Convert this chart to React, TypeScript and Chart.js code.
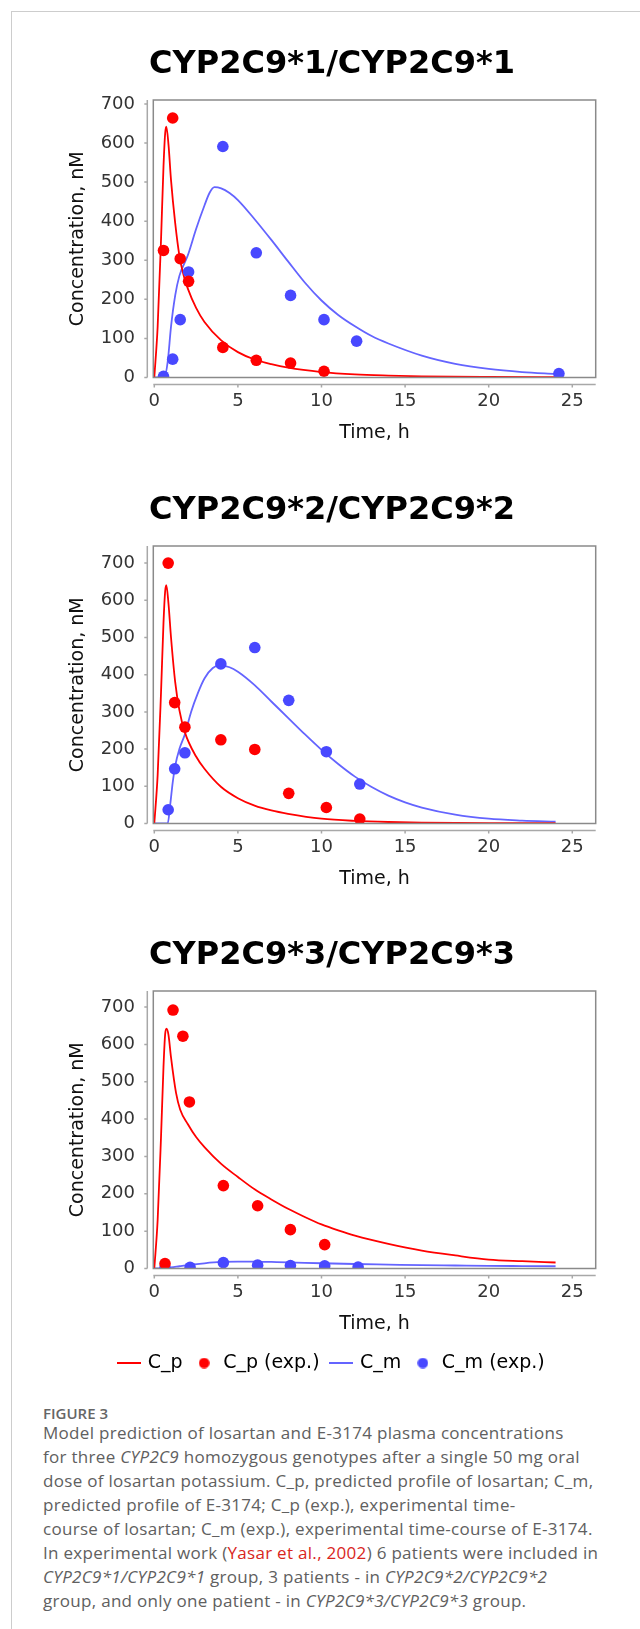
import React, { useEffect, useRef } from "react";
import { Chart, registerables } from "chart.js";

Chart.register(...registerables);

// ---------- shared axis data ----------
const X_TICKS = [0, 5, 10, 15, 20, 25];
const Y_TICKS = [0, 100, 200, 300, 400, 500, 600, 700];
const X_MIN = -0.06;
const X_MAX = 26.4;
const Y_MAX = [710, 746, 743];
const TITLES = ["CYP2C9*1/CYP2C9*1", "CYP2C9*2/CYP2C9*2", "CYP2C9*3/CYP2C9*3"];
const SERIES_NAMES = ["C_p", "C_p (exp.)", "C_m", "C_m (exp.)"];
const X_TITLE = "Time, h";
const Y_TITLE = "Concentration, nM";

// ---------- CYP2C9*1/CYP2C9*1 ----------
const cp1Time = [0, 0.2, 0.4, 0.55, 0.65, 0.72, 0.85, 1.0, 1.25, 1.5, 1.75, 2, 2.5, 3, 4, 5, 6, 7, 8, 10, 12, 14, 16, 20, 24];
const cp1Conc = [0, 130, 350, 540, 625, 642, 595, 505, 395, 312, 262, 228, 178, 142, 95, 65, 46, 34, 25, 14, 8, 5, 3, 1.5, 1];
const cp1ExpTime = [0.55, 1.1, 1.55, 2.05, 4.1, 6.1, 8.15, 10.15];
const cp1ExpConc = [325, 664, 304, 246, 77, 44, 37, 16];
const cm1Time = [0, 0.6, 0.8, 1.0, 1.25, 1.5, 2, 2.5, 3, 3.3, 3.6, 4.0, 4.5, 5, 6, 7, 8, 9, 10, 11, 12, 13, 14, 16, 18, 20, 22, 24];
const cm1Conc = [0, 0, 40, 130, 210, 260, 312, 380, 440, 472, 487, 484, 472, 454, 405, 352, 297, 243, 197, 160, 131, 106, 87, 56, 35, 22, 14, 9];
const cm1ExpTime = [0.55, 1.1, 1.55, 2.05, 4.1, 6.1, 8.15, 10.15, 12.1, 24.2];
const cm1ExpConc = [3, 47, 148, 270, 591, 319, 210, 148, 93, 10];

// ---------- CYP2C9*2/CYP2C9*2 ----------
const cp2Time = [0, 0.2, 0.4, 0.55, 0.65, 0.72, 0.85, 1.0, 1.25, 1.5, 1.83, 2.5, 3, 4, 5, 6, 7, 8, 10, 12, 14, 16, 20, 24];
const cp2Conc = [0, 130, 350, 540, 625, 641, 590, 500, 380, 305, 245, 180, 147, 98, 68, 48, 35, 26, 13, 7, 4, 2.5, 1.2, 0.8];
const cp2ExpTime = [0.83, 1.22, 1.83, 3.98, 6.01, 8.04, 10.29, 12.29];
const cp2ExpConc = [700, 325, 259, 225, 199, 81, 43, 12];
const cm2Time = [0, 0.8, 0.95, 1.1, 1.25, 1.5, 1.83, 2.2, 2.6, 3.0, 3.5, 3.9, 4.5, 5, 6, 7, 8, 9, 10, 11, 12, 13, 14, 15, 16, 18, 20, 22, 24];
const cm2Conc = [0, 0, 50, 110, 155, 200, 240, 300, 350, 390, 418, 425, 420, 408, 372, 328, 284, 240, 198, 160, 126, 98, 75, 57, 43, 24, 13, 8, 5];
const cm2ExpTime = [0.83, 1.22, 1.83, 3.98, 6.01, 8.04, 10.29, 12.29];
const cm2ExpConc = [37, 147, 190, 429, 473, 331, 193, 106];

// ---------- CYP2C9*3/CYP2C9*3 ----------
const cp3Time = [0, 0.2, 0.4, 0.55, 0.65, 0.73, 0.85, 1.0, 1.3, 1.55, 2, 2.5, 3, 4, 5, 6, 7, 8, 9, 10, 11, 12, 14, 16, 18, 20, 22, 24];
const cp3Conc = [0, 130, 350, 540, 628, 642, 625, 565, 470, 425, 387, 352, 325, 280, 245, 212, 185, 160, 138, 118, 102, 88, 66, 48, 35, 24, 19.5, 16];
const cp3ExpTime = [0.64, 1.12, 1.71, 2.1, 4.13, 6.18, 8.14, 10.19];
const cp3ExpConc = [13, 692, 622, 446, 222, 168, 104, 64];
const cm3Time = [0, 0.65, 1, 1.5, 2, 3, 4, 5, 6, 7, 8, 10, 12, 14, 16, 18, 20, 22, 24];
const cm3Conc = [0, 0, 3, 6, 9, 14, 17.5, 18.5, 18.5, 17.5, 16.5, 14, 12, 10.5, 9, 8, 7, 6.5, 6];
const cm3ExpTime = [0.64, 2.14, 4.13, 6.18, 8.14, 10.19, 12.19];
const cm3ExpConc = [2, 3, 16, 9, 8, 7, 4];

const PANELS = [
  { cpT: cp1Time, cpC: cp1Conc, cpeT: cp1ExpTime, cpeC: cp1ExpConc, cmT: cm1Time, cmC: cm1Conc, cmeT: cm1ExpTime, cmeC: cm1ExpConc },
  { cpT: cp2Time, cpC: cp2Conc, cpeT: cp2ExpTime, cpeC: cp2ExpConc, cmT: cm2Time, cmC: cm2Conc, cmeT: cm2ExpTime, cmeC: cm2ExpConc },
  { cpT: cp3Time, cpC: cp3Conc, cpeT: cp3ExpTime, cpeC: cp3ExpConc, cmT: cm3Time, cmC: cm3Conc, cmeT: cm3ExpTime, cmeC: cm3ExpConc },
];

const RED = "rgb(255,0,0)";
const BLUE_LINE = "rgb(100,100,255)";
const BLUE_DOT = "rgb(72,72,255)";
const FONT = "DejaVu Sans";

const pts = (t: number[], c: number[]) => t.map((x, i) => ({ x, y: c[i] }));

function lineIcon(color: string) {
  const c = document.createElement("canvas");
  c.width = 24;
  c.height = 2;
  const g = c.getContext("2d")!;
  g.fillStyle = color;
  g.fillRect(0, 0, 24, 2);
  return c;
}
function dotIcon(color: string) {
  const c = document.createElement("canvas");
  c.width = 11;
  c.height = 11;
  const g = c.getContext("2d")!;
  g.fillStyle = color;
  g.beginPath();
  g.arc(5.5, 5.5, 5.3, 0, Math.PI * 2);
  g.fill();
  return c;
}

const framePlugin = {
  id: "jfreeFrame",
  afterDatasetsDraw(chart: any) {
    const { ctx, chartArea: a, scales } = chart;
    const x = scales.x;
    const y = scales.y;
    ctx.save();
    ctx.strokeStyle = "#8a8a8a";
    ctx.lineWidth = 1.5;
    ctx.strokeRect(a.left, a.top, a.right - a.left, a.bottom - a.top);
    ctx.strokeStyle = "#a8a8a8";
    ctx.lineWidth = 1.5;
    ctx.beginPath();
    const ax = a.left - 6;
    ctx.moveTo(ax, a.top);
    ctx.lineTo(ax, a.bottom);
    y.ticks.forEach((t: any) => {
      const py = y.getPixelForValue(t.value);
      ctx.moveTo(ax - 3, py);
      ctx.lineTo(ax, py);
    });
    const ay = a.bottom + 7;
    ctx.moveTo(a.left, ay);
    ctx.lineTo(a.right, ay);
    x.ticks.forEach((t: any) => {
      const px = x.getPixelForValue(t.value);
      ctx.moveTo(px, ay);
      ctx.lineTo(px, ay + 3);
    });
    ctx.stroke();
    ctx.restore();
  },
};

function buildConfig(i: number, withLegend: boolean): any {
  const p = PANELS[i];
  const icons = [lineIcon(RED), dotIcon(RED), lineIcon(BLUE_LINE), dotIcon(BLUE_DOT)];
  return {
    type: "line",
    data: {
      datasets: [
        { label: SERIES_NAMES[0], data: pts(p.cpT, p.cpC), borderColor: RED, borderWidth: 1.8, pointRadius: 0, cubicInterpolationMode: "monotone", clip: 0, order: 2, fill: false },
        { label: SERIES_NAMES[1], data: pts(p.cpeT, p.cpeC), showLine: false, pointRadius: 5.8, pointBackgroundColor: RED, pointBorderWidth: 0, borderColor: RED, clip: 0, order: 0 },
        { label: SERIES_NAMES[2], data: pts(p.cmT, p.cmC), borderColor: BLUE_LINE, borderWidth: 1.8, pointRadius: 0, cubicInterpolationMode: "monotone", clip: 0, order: 3, fill: false },
        { label: SERIES_NAMES[3], data: pts(p.cmeT, p.cmeC), showLine: false, pointRadius: 5.8, pointBackgroundColor: BLUE_DOT, pointBorderWidth: 0, borderColor: BLUE_DOT, clip: 0, order: 1 },
      ],
    },
    options: {
      responsive: false,
      animation: false,
      devicePixelRatio: 1,
      events: [],
      layout: { padding: { left: 68.3, right: 44.3, top: 0, bottom: 0.5 } },
      plugins: {
        title: {
          display: true,
          text: TITLES[i],
          color: "#000",
          font: { family: FONT, size: 32, weight: "bold" },
          padding: { top: 45.8, bottom: 15.8 },
        },
        legend: {
          display: withLegend,
          position: "bottom",
          labels: {
            usePointStyle: true,
            color: "#222",
            padding: 12,
            font: { family: FONT, size: 19 },
            generateLabels: () =>
              SERIES_NAMES.map((name, k) => ({
                text: name,
                pointStyle: icons[k],
                fillStyle: "transparent",
                strokeStyle: "transparent",
                lineWidth: 0,
                hidden: false,
                datasetIndex: k,
              })),
          },
        },
        tooltip: { enabled: false },
      },
      scales: {
        x: {
          type: "linear",
          min: X_MIN,
          max: X_MAX,
          bounds: "data",
          afterBuildTicks: (s: any) => {
            s.ticks = X_TICKS.map((v) => ({ value: v }));
          },
          afterFit: (s: any) => {
            s.height = 73;
          },
          ticks: { autoSkip: false, maxRotation: 0, padding: 13.4, color: "#333", font: { family: FONT, size: 18 } },
          grid: { display: false, drawTicks: false },
          border: { display: false },
          title: { display: true, text: X_TITLE, color: "#111", font: { family: FONT, size: 19 }, padding: { top: 0, bottom: 5.6 } },
        },
        y: {
          type: "linear",
          min: 0,
          max: Y_MAX[i],
          bounds: "data",
          afterBuildTicks: (s: any) => {
            s.ticks = Y_TICKS.map((v) => ({ value: v }));
          },
          afterFit: (s: any) => {
            s.width = 85;
          },
          ticks: { autoSkip: false, padding: 18.3, color: "#333", font: { family: FONT, size: 18 } },
          grid: { display: false, drawTicks: false },
          border: { display: false },
          title: { display: true, text: Y_TITLE, color: "#111", font: { family: FONT, size: 19 }, padding: { top: -1.7, bottom: 0 } },
        },
      },
    },
    plugins: [framePlugin],
  };
}

function Panel({ idx, top, height, legend }: { idx: number; top: number; height: number; legend: boolean }) {
  const ref = useRef<HTMLCanvasElement>(null);
  useEffect(() => {
    const chart = new Chart(ref.current as HTMLCanvasElement, buildConfig(idx, legend));
    return () => chart.destroy();
  }, [idx, legend]);
  return (
    <canvas
      ref={ref}
      width={640}
      height={height}
      style={{ position: "absolute", left: 0, top, width: 640, height, display: "block" }}
    />
  );
}

const it: React.CSSProperties = { fontStyle: "italic" };

export default function App() {
  return (
    <div style={{ position: "absolute", left: 0, top: 0, width: 640, height: 1629, overflow: "hidden", background: "#fff" }}>
      <div
        style={{
          position: "absolute",
          left: 11,
          top: 11,
          width: 700,
          height: 1700,
          borderLeft: "1px solid #cdcdcd",
          borderTop: "1px solid #cdcdcd",
        }}
      />
      <Panel idx={0} top={0} height={451} legend={false} />
      <Panel idx={1} top={446} height={451} legend={false} />
      <Panel idx={2} top={891} height={492} legend={true} />
      <div
        style={{
          position: "absolute",
          left: 43,
          top: 1401,
          fontFamily: "'Open Sans'",
          fontWeight: 600,
          fontSize: 15,
          lineHeight: "24px",
          color: "#666",
        }}
      >
        FIGURE 3
      </div>
      <div
        style={{
          position: "absolute",
          left: 43,
          top: 1421,
          fontFamily: "'Open Sans'",
          fontSize: 17,
          letterSpacing: "0.3px",
          lineHeight: "24px",
          color: "#606060",
          whiteSpace: "nowrap",
        }}
      >
        <div>Model prediction of losartan and E-3174 plasma concentrations</div>
        <div>
          for three <span style={it}>CYP2C9</span> homozygous genotypes after a single 50 mg oral
        </div>
        <div>dose of losartan potassium. C_p, predicted profile of losartan; C_m,</div>
        <div>predicted profile of E-3174; C_p (exp.), experimental time-</div>
        <div>course of losartan; C_m (exp.), experimental time-course of E-3174.</div>
        <div>
          In experimental work (<span style={{ color: "#d9261c" }}>Yasar et al., 2002</span>) 6 patients were included in
        </div>
        <div>
          <span style={it}>CYP2C9*1/CYP2C9*1</span> group, 3 patients - in <span style={it}>CYP2C9*2/CYP2C9*2</span>
        </div>
        <div>
          group, and only one patient - in <span style={it}>CYP2C9*3/CYP2C9*3</span> group.
        </div>
      </div>
    </div>
  );
}
